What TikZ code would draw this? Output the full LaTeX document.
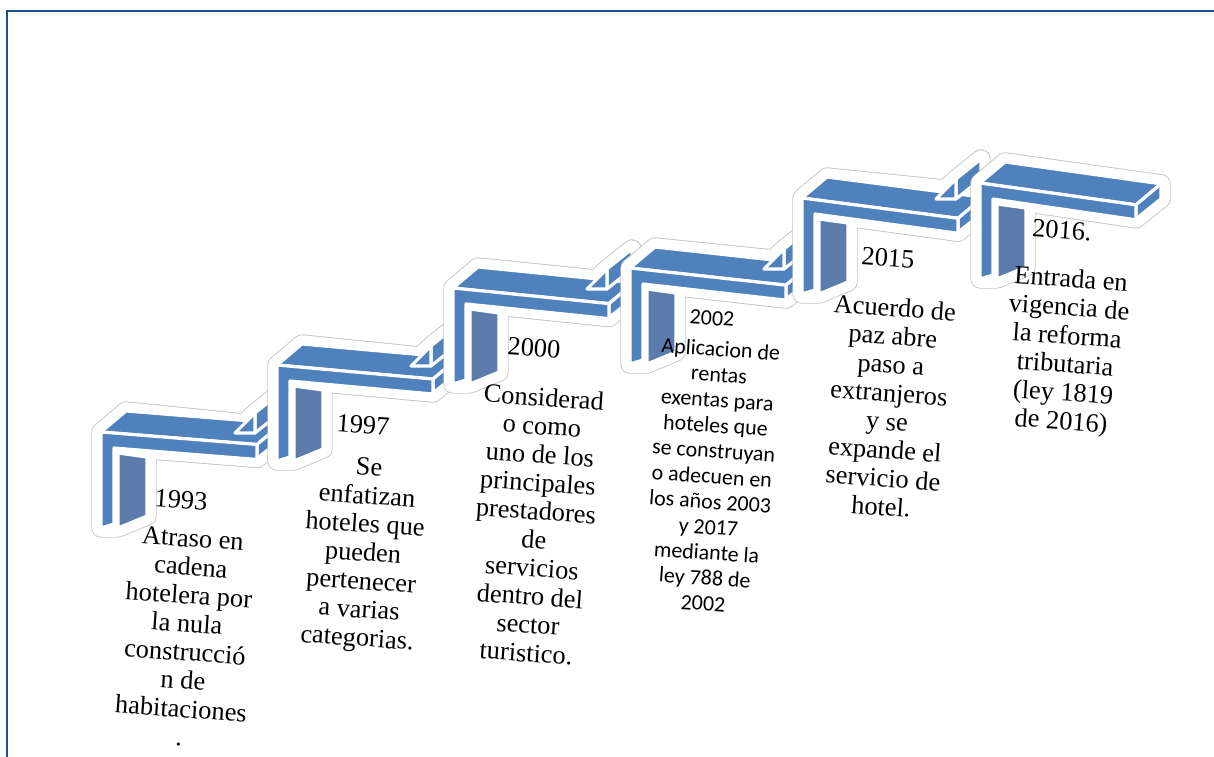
\documentclass[tikz,border=0pt]{standalone}
\usepackage{fontspec}
\setmainfont{Liberation Serif}
\newfontfamily\calibrilike{Carlito}
\usetikzlibrary{positioning}

\definecolor{stairblue}{HTML}{4F81BD}
\definecolor{stairshade}{HTML}{5B7BAD}
\definecolor{framecol}{HTML}{1F4E8C}
\definecolor{halogray}{HTML}{C4C4C4}

\tikzset{
  face/.style={fill=stairblue, draw=white, line width=1.8pt, line join=round},
  shadeface/.style={fill=stairshade, draw=white, line width=1.8pt, line join=round},
  halo/.style={fill=white, line join=round,
    preaction={draw=halogray, line width=11pt, line join=round},
    preaction={draw=white, line width=10pt, line join=round}},
  yeartext/.style={font=\fontsize{15}{16.2}\selectfont, rotate=-4, inner sep=0pt},
  desctext/.style={align=center, font=\fontsize{15}{16.2}\selectfont, rotate=-4, inner sep=0pt},
  sanstext/.style={align=center, font=\calibrilike\fontsize{12.5}{14.5}\selectfont, rotate=-4, inner sep=0pt}
}

\begin{document}
\begin{tikzpicture}[x=0.02cm, y=-0.02cm]
    \useasboundingbox (0,0) rectangle (1214,757);
    \draw[framecol, line width=1.3pt] (7,757) -- (7,11) -- (1214,11);

    % the six stairs, left to right
    \def\L{156}
    \foreach \X/\Y/\s/\tri in {101/432/0.08/1, 277/365/0.09/1, 453/288/0.10/1,
                               630/268/0.11/1, 802/198/0.13/1, 980/183/0.14/0} {
      \pgfmathsetmacro\h{\L*\s}
      \begin{scope}[shift={(\X,\Y)}]
        \ifnum\tri=1
          \path[halo] (0,0) -- (25,-21) -- (143,-9) -- (154,-19) -- (179,-39)
            -- (181,\h-6) -- (156,\h+14) -- (46,15+33*\s) -- (46,84) -- (17,96) -- (0,96) -- cycle;
        \else
          \path[halo] (0,0) -- (25,-21) -- (181,\h-21) -- (181,\h-6)
            -- (156,\h+14) -- (46,15+33*\s) -- (46,84) -- (17,96) -- (0,96) -- cycle;
        \fi
        \draw[face] (0,0) -- (25,-21) -- (181,\h-21) -- (156,\h) -- cycle;
        \draw[face] (156,\h) -- (181,\h-21) -- (181,\h-6) -- (156,\h+14) -- cycle;
        \ifnum\tri=1
          \draw[face] (154,1) -- (154,-19) -- (179,-39) -- (179,-19) -- cycle;
          \draw[face] (134,1) -- (154,-19) -- (154,1) -- cycle;
        \fi
        \draw[face] (0,0) -- (156,\h) -- (156,\h+15) -- (13,16) -- (13,92) -- (0,96) -- cycle;
        \draw[shadeface] (17,21) -- (46,25) -- (46,84) -- (17,96) -- cycle;
      \end{scope}
    }

    % years and texts
    \node[yeartext] (y1993) at (181,500) {1993};
    \node[desctext] (t1993) at (186,638) {Atraso en\\cadena\\hotelera por\\la nula\\construcció\\n de\\habitaciones\\.};
    \node[yeartext] (y1997) at (363,425) {1997};
    \node[desctext] (t1997) at (363,555) {Se\\enfatizan\\hoteles que\\pueden\\pertenecer\\a varias\\categorias.};
    \node[yeartext] (y2000) at (534,348) {2000};
    \node[desctext] (t2000) at (535,525) {Considerad\\o como\\uno de los\\principales\\prestadores\\de\\servicios\\dentro del\\sector\\turistico.};
    \node[sanstext] (y2002) at (712,318) {2002};
    \node[sanstext] (t2002) at (712,476) {Aplicacion de\\rentas\\exentas para\\hoteles que\\se construyan\\o adecuen en\\los años 2003\\y 2017\\mediante la\\ley 788 de\\2002};
    \node[yeartext] (y2015) at (888,258) {2015};
    \node[desctext] (t2015) at (888,407) {Acuerdo de\\paz abre\\paso a\\extranjeros\\y se\\expande el\\servicio de\\hotel.};
    \node[yeartext] (y2016) at (1062,230) {2016.};
    \node[desctext] (t2016) at (1066,352) {Entrada en\\vigencia de\\la reforma\\tributaria\\(ley 1819\\de 2016)};
\end{tikzpicture}
\end{document}
